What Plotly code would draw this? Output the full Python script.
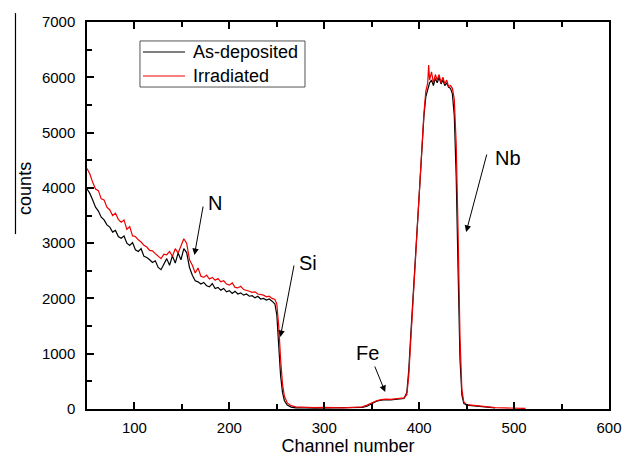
import plotly.graph_objects as go

# As-deposited spectrum (channel, counts)
CH_DEP = [50, 53, 56, 59, 62, 65, 68, 71, 74, 77, 80, 83, 86, 89, 92, 95, 98, 101, 104, 107,
          110, 113, 116, 119, 122, 125, 128, 131, 134, 137, 140, 143, 146, 149, 152, 155, 158,
          161, 164, 167, 170, 173, 176, 179, 182, 185, 188, 191, 194, 197, 200, 203, 206, 209,
          212, 215, 218, 221, 224, 227, 230, 233, 236, 239, 242, 245, 248,
          250, 252, 254, 256, 258, 261, 265, 270, 275, 280, 290, 300, 310, 320, 330, 340, 345,
          350, 355, 360, 365, 370, 375, 380, 384, 387, 389, 391, 393, 395, 397, 399, 401, 403,
          405, 407, 409, 411, 413, 415, 417, 419, 421, 423, 425, 427, 429, 431, 433, 435, 437,
          439, 441, 443, 445, 447, 450, 455, 460, 465, 470, 475, 480]
CNT_DEP = [3980, 3900, 3780, 3650, 3580, 3470, 3420, 3330, 3290, 3200, 3230, 3120, 3090, 3130,
           3000, 2960, 3010, 2880, 2850, 2900, 2760, 2740, 2700, 2650, 2680, 2560, 2520, 2630,
           2720, 2600, 2770, 2640, 2820, 2700, 2900, 2830, 2560, 2420, 2320, 2300, 2260, 2290,
           2230, 2210, 2270, 2180, 2200, 2150, 2180, 2120, 2140, 2090, 2130, 2080, 2100, 2060,
           2080, 2040, 2050, 2010, 2040, 1990, 2000, 1970, 1990, 1950, 1900,
           1700, 1100, 600, 300, 150, 70, 35, 20, 15, 20, 15, 20, 15, 20, 25, 30, 50,
           100, 140, 160, 170, 165, 175, 180, 190, 300, 700, 1300, 1900, 2500, 3100, 3700, 4300,
           4800, 5300, 5650, 5800, 5900, 5950, 5850, 5980, 5900, 6000, 5880, 5950, 5850, 5900,
           5820, 5800, 5700, 5300, 4200, 2500, 900, 250, 100, 70, 60, 55, 45, 30, 25, 20]

# Irradiated spectrum (channel, counts)
CH_IRR = [50, 53, 56, 59, 62, 65, 68, 71, 74, 77, 80, 83, 86, 89, 92, 95, 98, 101, 104, 107,
          110, 113, 116, 119, 122, 125, 128, 131, 134, 137, 140, 143, 146, 149, 152, 155, 158,
          161, 164, 167, 170, 173, 176, 179, 182, 185, 188, 191, 194, 197, 200, 203, 206, 209,
          212, 215, 218, 221, 224, 227, 230, 233, 236, 239, 242, 245, 248,
          250, 252, 254, 256, 258, 261, 265, 270, 275, 280, 290, 300, 310, 320, 330, 340, 345,
          350, 355, 360, 365, 370, 375, 380, 384, 387, 389, 391, 393, 395, 397, 399, 401, 403,
          405, 407, 409, 410, 411, 413, 415, 417, 419, 421, 423, 425, 427, 429, 431, 433, 435,
          437, 439, 441, 443, 445, 447, 450, 455, 460, 465, 470, 475, 480, 490, 500, 505, 512]
CNT_IRR = [4350, 4250, 4100, 3980, 3950, 3800, 3780, 3650, 3600, 3500, 3540, 3430, 3380, 3420,
           3250, 3300, 3130, 3120, 3060, 3020, 2960, 2930, 2870, 2860, 2810, 2760, 2720, 2800,
           2790, 2850, 2760, 2900, 2820, 2950, 3080, 3000, 2700, 2600, 2460, 2550, 2400, 2380,
           2420, 2350, 2380, 2330, 2360, 2300, 2320, 2260, 2240, 2280, 2200, 2190, 2220, 2160,
           2150, 2130, 2110, 2120, 2080, 2070, 2060, 2030, 2040, 2000, 1980,
           1900, 1500, 900, 450, 230, 110, 60, 40, 35, 30, 25, 30, 25, 20, 30, 40, 70,
           110, 150, 170, 180, 175, 185, 190, 200, 260, 600, 1200, 1800, 2400, 3000, 3600, 4200,
           4800, 5350, 5750, 5900, 6220, 5950, 6100, 5900, 6050, 5950, 6050, 5900, 6000, 5880,
           5950, 5830, 5850, 5800, 5600, 4800, 3200, 1300, 350, 130, 80, 70, 60, 50, 40, 35,
           25, 20, 20, 15, 10]

SERIES = ["As-deposited", "Irradiated"]
COLORS = ["black", "#ee0000"]

# element labels: text, text pos, arrow tail, arrow head (data coords)
LABELS = ["N", "Si", "Fe", "Nb"]
LABEL_X = [185, 283, 346, 494]
LABEL_Y = [3726, 2641, 1013, 4540]
TAIL_X = [172.6, 268.4, 352.6, 471.6]
TAIL_Y = [3690, 2623, 796, 4630]
HEAD_X = [163.2, 253.7, 364.2, 449.5]
HEAD_Y = [2786, 1302, 307, 3202]

FONT = "Liberation Sans, Arial, sans-serif"

fig = go.Figure()
fig.add_scatter(x=CH_DEP, y=CNT_DEP, mode="lines", name=SERIES[0],
                line=dict(color=COLORS[0], width=1.2))
fig.add_scatter(x=CH_IRR, y=CNT_IRR, mode="lines", name=SERIES[1],
                line=dict(color=COLORS[1], width=1.2))

for t, lx, ly, tx, ty, hx, hy in zip(LABELS, LABEL_X, LABEL_Y, TAIL_X, TAIL_Y, HEAD_X, HEAD_Y):
    fig.add_annotation(x=lx, y=ly, text=t, showarrow=False,
                       font=dict(size=20, color="black", family=FONT))
    fig.add_annotation(x=hx, y=hy, ax=tx, ay=ty, axref="x", ayref="y", text="",
                       showarrow=True, arrowhead=2, arrowsize=1.3, arrowwidth=1,
                       arrowcolor="black")

# hand-drawn legend box (Origin style: long line samples, tight rows)
fig.add_shape(type="rect", xref="paper", yref="paper", x0=0.1015, x1=0.4176,
              y0=0.832, y1=0.951, line=dict(color="#555", width=1), fillcolor="white",
              layer="above")
for i, (name, col) in enumerate(zip(SERIES, COLORS)):
    yy = 0.9225 - i * 0.062
    fig.add_shape(type="line", xref="paper", yref="paper", x0=0.1073, x1=0.1877,
                  y0=yy, y1=yy, line=dict(color=col, width=1.2), layer="above")
    fig.add_annotation(x=0.1992, y=yy, xref="paper", yref="paper", text=name,
                       xanchor="left", yanchor="middle", showarrow=False,
                       font=dict(size=18, color="black", family=FONT))

# rotated y label and the stray rule beside it
fig.add_annotation(x=-0.119, y=0.571, xref="paper", yref="paper", text="counts",
                   textangle=-90, showarrow=False, xanchor="center", yanchor="middle",
                   font=dict(size=18, color="black", family=FONT))
fig.add_shape(type="line", xref="paper", yref="paper", x0=-0.137, x1=-0.137,
              y0=0.452, y1=1.023, line=dict(color="black", width=1.2))

# page body has an 8px margin, so the figure is shrunk and shifted to match
fig.update_layout(
    width=624, height=449,
    margin=dict(l=79, r=23, t=14, b=48),
    plot_bgcolor="white", paper_bgcolor="white",
    font=dict(family=FONT, color="black"),
    showlegend=False,
    xaxis=dict(range=[50, 600], dtick=100, tick0=0, showline=True, linecolor="black",
               linewidth=1.5, mirror="ticks", ticks="inside", ticklen=7, tickwidth=1.5,
               tickcolor="black", showgrid=False, zeroline=False, automargin=False,
               minor=dict(dtick=50, tick0=0, ticks="inside", ticklen=5, tickcolor="black"),
               tickfont=dict(size=15), ticklabelstandoff=4,
               title=dict(text="Channel number", font=dict(size=18), standoff=4)),
    yaxis=dict(range=[0, 7000], dtick=1000, showline=True, linecolor="black",
               linewidth=1.5, mirror=True, ticks="inside", ticklen=7, tickwidth=1.5,
               tickcolor="black", showgrid=False, zeroline=False, automargin=False,
               minor=dict(dtick=500, ticks="inside", ticklen=5, tickcolor="black"),
               tickfont=dict(size=15), ticklabelstandoff=7),
)

fig.write_html("out.html")
